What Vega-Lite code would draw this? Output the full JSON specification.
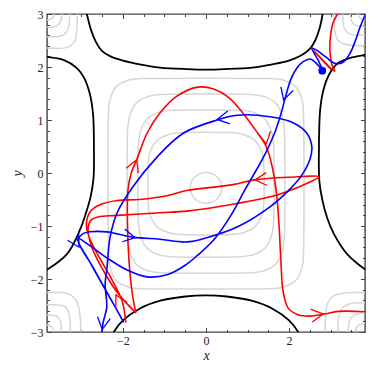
{
"$schema": "https://vega.github.io/schema/vega-lite/v6.json",
"width": 318, "height": 318,
"autosize": {"type": "none"},
"padding": {"left": 47, "top": 14, "right": 9, "bottom": 42},
"background": "white",
"config": {
 "view": {"stroke": "#444", "strokeWidth": 1.4},
 "axis": {"grid": false, "domain": false, "tickColor": "#444", "tickWidth": 1, "labelFont": "Liberation Serif", "labelFontSize": 12, "labelColor": "#222", "titleFont": "Liberation Serif", "titleFontSize": 14, "titleFontStyle": "italic", "titleFontWeight": "normal", "titleColor": "#222"}
},
"resolve": {"axis": {"x": "independent", "y": "independent"}},
"layer": [
 {
  "data": {"values": [
   {"s":"c","x":0.38,"y":-0.28},{"s":"c","x":0.27,"y":-0.075},{"s":"c","x":0,"y":0.01},{"s":"c","x":-0.27,"y":-0.075},{"s":"c","x":-0.38,"y":-0.28},{"s":"c","x":-0.27,"y":-0.485},{"s":"c","x":0,"y":-0.57},{"s":"c","x":0.27,"y":-0.485},
   {"s":"l1","x":1.4,"y":-0.2},{"s":"l1","x":1.389,"y":0.204},{"s":"l1","x":1.333,"y":0.431},{"s":"l1","x":1.177,"y":0.616},{"s":"l1","x":0.91,"y":0.723},{"s":"l1","x":0.584,"y":0.762},{"s":"l1","x":0,"y":0.77},{"s":"l1","x":-0.584,"y":0.762},{"s":"l1","x":-0.91,"y":0.723},{"s":"l1","x":-1.177,"y":0.616},{"s":"l1","x":-1.333,"y":0.431},{"s":"l1","x":-1.389,"y":0.204},{"s":"l1","x":-1.4,"y":-0.2},{"s":"l1","x":-1.389,"y":-0.604},{"s":"l1","x":-1.333,"y":-0.831},{"s":"l1","x":-1.177,"y":-1.016},{"s":"l1","x":-0.91,"y":-1.123},{"s":"l1","x":-0.584,"y":-1.162},{"s":"l1","x":0,"y":-1.17},{"s":"l1","x":0.584,"y":-1.162},{"s":"l1","x":0.91,"y":-1.123},{"s":"l1","x":1.177,"y":-1.016},{"s":"l1","x":1.333,"y":-0.831},{"s":"l1","x":1.389,"y":-0.604},
   {"s":"l2","x":1.64,"y":-0.2},{"s":"l2","x":1.63,"y":0.489},{"s":"l2","x":1.576,"y":0.786},{"s":"l2","x":1.428,"y":1.011},{"s":"l2","x":1.163,"y":1.136},{"s":"l2","x":0.813,"y":1.182},{"s":"l2","x":0,"y":1.19},{"s":"l2","x":-0.813,"y":1.182},{"s":"l2","x":-1.163,"y":1.136},{"s":"l2","x":-1.428,"y":1.011},{"s":"l2","x":-1.576,"y":0.786},{"s":"l2","x":-1.63,"y":0.489},{"s":"l2","x":-1.64,"y":-0.2},{"s":"l2","x":-1.63,"y":-0.889},{"s":"l2","x":-1.576,"y":-1.186},{"s":"l2","x":-1.428,"y":-1.411},{"s":"l2","x":-1.163,"y":-1.536},{"s":"l2","x":-0.813,"y":-1.582},{"s":"l2","x":0,"y":-1.59},{"s":"l2","x":0.813,"y":-1.582},{"s":"l2","x":1.163,"y":-1.536},{"s":"l2","x":1.428,"y":-1.411},{"s":"l2","x":1.576,"y":-1.186},{"s":"l2","x":1.63,"y":-0.889},
   {"s":"l3","x":1.9,"y":-0.2},{"s":"l3","x":1.891,"y":0.743},{"s":"l3","x":1.839,"y":1.068},{"s":"l3","x":1.693,"y":1.306},{"s":"l3","x":1.425,"y":1.436},{"s":"l3","x":1.06,"y":1.482},{"s":"l3","x":0,"y":1.49},{"s":"l3","x":-1.06,"y":1.482},{"s":"l3","x":-1.425,"y":1.436},{"s":"l3","x":-1.693,"y":1.306},{"s":"l3","x":-1.839,"y":1.068},{"s":"l3","x":-1.891,"y":0.743},{"s":"l3","x":-1.9,"y":-0.2},{"s":"l3","x":-1.891,"y":-1.143},{"s":"l3","x":-1.839,"y":-1.468},{"s":"l3","x":-1.693,"y":-1.706},{"s":"l3","x":-1.425,"y":-1.836},{"s":"l3","x":-1.06,"y":-1.882},{"s":"l3","x":0,"y":-1.89},{"s":"l3","x":1.06,"y":-1.882},{"s":"l3","x":1.425,"y":-1.836},{"s":"l3","x":1.693,"y":-1.706},{"s":"l3","x":1.839,"y":-1.468},{"s":"l3","x":1.891,"y":-1.143},
   {"s":"l4","x":2.36,"y":-0.2},{"s":"l4","x":2.351,"y":1.084},{"s":"l4","x":2.303,"y":1.404},{"s":"l4","x":2.164,"y":1.625},{"s":"l4","x":1.902,"y":1.742},{"s":"l4","x":1.522,"y":1.782},{"s":"l4","x":0,"y":1.79},{"s":"l4","x":-1.522,"y":1.782},{"s":"l4","x":-1.902,"y":1.742},{"s":"l4","x":-2.164,"y":1.625},{"s":"l4","x":-2.303,"y":1.404},{"s":"l4","x":-2.351,"y":1.084},{"s":"l4","x":-2.36,"y":-0.2},{"s":"l4","x":-2.351,"y":-1.484},{"s":"l4","x":-2.303,"y":-1.804},{"s":"l4","x":-2.164,"y":-2.025},{"s":"l4","x":-1.902,"y":-2.142},{"s":"l4","x":-1.522,"y":-2.182},{"s":"l4","x":0,"y":-2.19},{"s":"l4","x":1.522,"y":-2.182},{"s":"l4","x":1.902,"y":-2.142},{"s":"l4","x":2.164,"y":-2.025},{"s":"l4","x":2.303,"y":-1.804},{"s":"l4","x":2.351,"y":-1.484}
  ]},
  "mark": {"type": "line", "interpolate": "cardinal-closed", "color": "#d6d6d6", "strokeWidth": 1.5, "clip": true},
  "encoding": {
   "x": {"field": "x", "type": "quantitative", "scale": {"domain": [-3.83, 3.83], "nice": false, "zero": false},
         "axis": {"orient": "bottom", "values": [-2, 0, 2], "tickSize": -4.5, "labelPadding": 7.5, "title": "x", "titlePadding": 2}},
   "y": {"field": "y", "type": "quantitative", "scale": {"domain": [-3, 3], "nice": false, "zero": false},
         "axis": {"orient": "left", "values": [-3, -2, -1, 0, 1, 2, 3], "tickSize": -4.5, "labelPadding": 8.5, "title": "y", "titlePadding": 6}},
   "detail": {"field": "s"},
   "order": {"value": null}
  }
 },
 {
  "data": {"values": [
   {"s":"tl1","x":-3.9,"y":2.36},{"s":"tl1","x":-3.35,"y":2.37},{"s":"tl1","x":-3.18,"y":2.46},{"s":"tl1","x":-3.12,"y":2.62},{"s":"tl1","x":-3.1,"y":3.1},
   {"s":"tl2","x":-3.9,"y":2.57},{"s":"tl2","x":-3.45,"y":2.6},{"s":"tl2","x":-3.33,"y":2.7},{"s":"tl2","x":-3.28,"y":3.1},
   {"s":"tl3","x":-3.9,"y":2.75},{"s":"tl3","x":-3.6,"y":2.77},{"s":"tl3","x":-3.5,"y":2.87},{"s":"tl3","x":-3.47,"y":3.1},
   {"s":"tl4","x":-3.9,"y":2.88},{"s":"tl4","x":-3.7,"y":2.92},{"s":"tl4","x":-3.65,"y":3.1},
   {"s":"tr1","x":3.9,"y":2.4},{"s":"tr1","x":3.35,"y":2.43},{"s":"tr1","x":3.18,"y":2.5},{"s":"tr1","x":3.11,"y":2.65},{"s":"tr1","x":3.08,"y":3.1},
   {"s":"tr2","x":3.9,"y":2.6},{"s":"tr2","x":3.45,"y":2.63},{"s":"tr2","x":3.33,"y":2.73},{"s":"tr2","x":3.3,"y":3.1},
   {"s":"tr3","x":3.9,"y":2.77},{"s":"tr3","x":3.6,"y":2.79},{"s":"tr3","x":3.5,"y":2.88},{"s":"tr3","x":3.47,"y":3.1},
   {"s":"tr4","x":3.9,"y":2.89},{"s":"tr4","x":3.7,"y":2.93},{"s":"tr4","x":3.65,"y":3.1},
   {"s":"bl1","x":-3.9,"y":-2.26},{"s":"bl1","x":-3.35,"y":-2.27},{"s":"bl1","x":-3.15,"y":-2.38},{"s":"bl1","x":-3.06,"y":-2.55},{"s":"bl1","x":-3.01,"y":-3.1},
   {"s":"bl2","x":-3.9,"y":-2.49},{"s":"bl2","x":-3.4,"y":-2.52},{"s":"bl2","x":-3.3,"y":-2.65},{"s":"bl2","x":-3.27,"y":-3.1},
   {"s":"bl3","x":-3.9,"y":-2.68},{"s":"bl3","x":-3.58,"y":-2.71},{"s":"bl3","x":-3.5,"y":-2.82},{"s":"bl3","x":-3.49,"y":-3.1},
   {"s":"bl4","x":-3.9,"y":-2.86},{"s":"bl4","x":-3.72,"y":-2.9},{"s":"bl4","x":-3.68,"y":-3.1},
   {"s":"br1","x":3.9,"y":-2.26},{"s":"br1","x":3.3,"y":-2.27},{"s":"br1","x":3.05,"y":-2.33},{"s":"br1","x":2.92,"y":-2.47},{"s":"br1","x":2.88,"y":-2.7},{"s":"br1","x":2.87,"y":-3.1},
   {"s":"br2","x":3.9,"y":-2.45},{"s":"br2","x":3.45,"y":-2.47},{"s":"br2","x":3.28,"y":-2.55},{"s":"br2","x":3.2,"y":-2.7},{"s":"br2","x":3.18,"y":-3.1},
   {"s":"br3","x":3.9,"y":-2.64},{"s":"br3","x":3.55,"y":-2.69},{"s":"br3","x":3.45,"y":-2.82},{"s":"br3","x":3.42,"y":-3.1},
   {"s":"br4","x":3.9,"y":-2.83},{"s":"br4","x":3.65,"y":-2.88},{"s":"br4","x":3.6,"y":-3.1}
  ]},
  "mark": {"type": "line", "interpolate": "catmull-rom", "color": "#d6d6d6", "strokeWidth": 1.5, "clip": true},
  "encoding": {
   "x": {"field": "x", "type": "quantitative", "axis": {"orient": "top", "values": [-2, 0, 2], "tickSize": -4.5, "labels": false, "title": null}},
   "y": {"field": "y", "type": "quantitative", "axis": {"orient": "right", "values": [-3, -2, -1, 0, 1, 2, 3], "tickSize": -4.5, "labels": false, "title": null}},
   "detail": {"field": "s"},
   "order": {"value": null}
  }
 },
 {
  "data": {"values": [
   {"s":"t","x":-2.9,"y":3.1},{"s":"t","x":-2.87,"y":3.0},{"s":"t","x":-2.77,"y":2.7},{"s":"t","x":-2.65,"y":2.47},{"s":"t","x":-2.5,"y":2.3},{"s":"t","x":-2.3,"y":2.2},{"s":"t","x":-2.0,"y":2.12},{"s":"t","x":-1.6,"y":2.05},{"s":"t","x":-1.11,"y":1.99},{"s":"t","x":-0.46,"y":1.96},{"s":"t","x":0,"y":1.95},{"s":"t","x":0.46,"y":1.96},{"s":"t","x":1.11,"y":1.99},{"s":"t","x":1.6,"y":2.05},{"s":"t","x":2.0,"y":2.12},{"s":"t","x":2.3,"y":2.22},{"s":"t","x":2.5,"y":2.34},{"s":"t","x":2.63,"y":2.5},{"s":"t","x":2.74,"y":2.74},{"s":"t","x":2.81,"y":3.0},{"s":"t","x":2.83,"y":3.1},
   {"s":"l","x":-3.9,"y":2.2},{"s":"l","x":-3.83,"y":2.19},{"s":"l","x":-3.42,"y":2.13},{"s":"l","x":-3.11,"y":1.98},{"s":"l","x":-2.94,"y":1.8},{"s":"l","x":-2.8,"y":1.5},{"s":"l","x":-2.72,"y":1.1},{"s":"l","x":-2.7,"y":0.5},{"s":"l","x":-2.71,"y":-0.1},{"s":"l","x":-2.78,"y":-0.45},{"s":"l","x":-2.89,"y":-0.75},{"s":"l","x":-3.04,"y":-1.08},{"s":"l","x":-3.35,"y":-1.53},{"s":"l","x":-3.9,"y":-1.86},
   {"s":"r","x":3.9,"y":2.24},{"s":"r","x":3.83,"y":2.23},{"s":"r","x":3.47,"y":2.17},{"s":"r","x":3.16,"y":2.06},{"s":"r","x":2.96,"y":1.85},{"s":"r","x":2.83,"y":1.57},{"s":"r","x":2.75,"y":1.19},{"s":"r","x":2.72,"y":0.43},{"s":"r","x":2.73,"y":-0.15},{"s":"r","x":2.8,"y":-0.5},{"s":"r","x":2.92,"y":-0.85},{"s":"r","x":3.08,"y":-1.15},{"s":"r","x":3.4,"y":-1.53},{"s":"r","x":3.9,"y":-1.86},
   {"s":"b","x":-2.27,"y":-3.1},{"s":"b","x":-2.22,"y":-3.0},{"s":"b","x":-2.0,"y":-2.78},{"s":"b","x":-1.6,"y":-2.56},{"s":"b","x":-1.1,"y":-2.41},{"s":"b","x":-0.5,"y":-2.33},{"s":"b","x":0,"y":-2.31},{"s":"b","x":0.5,"y":-2.33},{"s":"b","x":1.1,"y":-2.41},{"s":"b","x":1.6,"y":-2.56},{"s":"b","x":2.0,"y":-2.78},{"s":"b","x":2.22,"y":-3.0},{"s":"b","x":2.27,"y":-3.1}
  ]},
  "mark": {"type": "line", "interpolate": "catmull-rom", "color": "#000000", "strokeWidth": 1.8, "clip": true},
  "encoding": {
   "x": {"field": "x", "type": "quantitative", "axis": {"orient": "bottom", "values": [-3.5, -3, -2.5, -1.5, -1, -0.5, 0.5, 1, 1.5, 2.5, 3, 3.5], "tickSize": -2.5, "labels": false, "title": null}},
   "y": {"field": "y", "type": "quantitative", "axis": {"orient": "left", "values": [-2.8, -2.6, -2.4, -2.2, -1.8, -1.6, -1.4, -1.2, -0.8, -0.6, -0.4, -0.2, 0.2, 0.4, 0.6, 0.8, 1.2, 1.4, 1.6, 1.8, 2.2, 2.4, 2.6, 2.8], "tickSize": -2.5, "labels": false, "title": null}},
   "detail": {"field": "s"},
   "order": {"value": null}
  }
 },
 {
  "data": {"values": [
   {"s":"a","x":-1.69,"y":-2.64},{"s":"a","x":-1.78,"y":-2.25},{"s":"a","x":-1.86,"y":-1.6},{"s":"a","x":-1.89,"y":-1.0},{"s":"a","x":-1.88,"y":-0.32},{"s":"a","x":-1.8,"y":0.0},{"s":"a","x":-1.67,"y":0.25},{"s":"a","x":-1.42,"y":0.75},{"s":"a","x":-1.11,"y":1.13},{"s":"a","x":-0.7,"y":1.45},{"s":"a","x":-0.2,"y":1.62},{"s":"a","x":0.2,"y":1.58},{"s":"a","x":0.55,"y":1.42},{"s":"a","x":0.92,"y":1.1},{"s":"a","x":1.22,"y":0.78},{"s":"a","x":1.45,"y":0.5},{"s":"a","x":1.6,"y":0.1},{"s":"a","x":1.7,"y":-0.4},{"s":"a","x":1.76,"y":-1.0},{"s":"a","x":1.8,"y":-1.6},{"s":"a","x":1.86,"y":-2.25},{"s":"a","x":1.98,"y":-2.55},{"s":"a","x":2.2,"y":-2.67},{"s":"a","x":2.5,"y":-2.7},{"s":"a","x":2.85,"y":-2.66},{"s":"a","x":3.2,"y":-2.61},{"s":"a","x":3.9,"y":-2.62},
   {"s":"b","x":-1.69,"y":-2.64},{"s":"b","x":-1.92,"y":-2.45},{"s":"b","x":-2.14,"y":-2.25},{"s":"b","x":-2.48,"y":-1.83},{"s":"b","x":-2.75,"y":-1.4},{"s":"b","x":-2.84,"y":-1.05},{"s":"b","x":-2.76,"y":-0.88},{"s":"b","x":-2.6,"y":-0.83},{"s":"b","x":-2.14,"y":-0.8},{"s":"b","x":-1.11,"y":-0.75},{"s":"b","x":-0.46,"y":-0.72},{"s":"b","x":0.58,"y":-0.6},{"s":"b","x":1.54,"y":-0.45},{"s":"b","x":2.12,"y":-0.3},{"s":"b","x":2.5,"y":-0.17},{"s":"b","x":2.72,"y":-0.07},{"s":"b","x":2.0,"y":-0.08},{"s":"b","x":1.16,"y":-0.13},{"s":"b","x":0.65,"y":-0.22},{"s":"b","x":-0.46,"y":-0.33},{"s":"b","x":-0.94,"y":-0.43},{"s":"b","x":-1.6,"y":-0.5},{"s":"b","x":-2.14,"y":-0.52},{"s":"b","x":-2.55,"y":-0.6},{"s":"b","x":-2.78,"y":-0.72},{"s":"b","x":-2.88,"y":-0.94},{"s":"b","x":-2.82,"y":-1.2},{"s":"b","x":-2.6,"y":-1.55},{"s":"b","x":-2.26,"y":-2.02},{"s":"b","x":-2.02,"y":-2.42},{"s":"b","x":-1.93,"y":-2.82},
   {"s":"c","x":3.25,"y":3.1},{"s":"c","x":3.06,"y":2.83},{"s":"c","x":2.99,"y":2.51},{"s":"c","x":2.99,"y":2.26},{"s":"c","x":3.03,"y":2.05},{"s":"c","x":3.1,"y":1.92},{"s":"c","x":2.53,"y":2.36},{"s":"c","x":3.02,"y":1.95}
  ]},
  "mark": {"type": "line", "interpolate": "catmull-rom", "color": "#ff0000", "strokeWidth": 1.6, "clip": true},
  "encoding": {
   "x": {"field": "x", "type": "quantitative", "axis": {"orient": "top", "values": [-3.5, -3, -2.5, -1.5, -1, -0.5, 0.5, 1, 1.5, 2.5, 3, 3.5], "tickSize": -2.5, "labels": false, "title": null}},
   "y": {"field": "y", "type": "quantitative", "axis": {"orient": "right", "values": [-2.8, -2.6, -2.4, -2.2, -1.8, -1.6, -1.4, -1.2, -0.8, -0.6, -0.4, -0.2, 0.2, 0.4, 0.6, 0.8, 1.2, 1.4, 1.6, 1.8, 2.2, 2.4, 2.6, 2.8], "tickSize": -2.5, "labels": false, "title": null}},
   "detail": {"field": "s"},
   "order": {"value": null}
  }
 },
 {
  "data": {"values": [
   {"s":"a","x":3.9,"y":3.1},{"s":"a","x":3.71,"y":2.75},{"s":"a","x":3.6,"y":2.5},{"s":"a","x":3.47,"y":2.26},{"s":"a","x":3.3,"y":2.09},{"s":"a","x":3.1,"y":2.07},{"s":"a","x":2.9,"y":2.18},{"s":"a","x":2.7,"y":2.3},{"s":"a","x":2.55,"y":2.36},{"s":"a","x":2.7,"y":2.13},{"s":"a","x":2.82,"y":1.93},
   {"s":"b","x":2.82,"y":1.93},{"s":"b","x":2.67,"y":2.06},{"s":"b","x":2.51,"y":2.15},{"s":"b","x":2.34,"y":2.1},{"s":"b","x":2.19,"y":1.98},{"s":"b","x":2.05,"y":1.78},{"s":"b","x":1.92,"y":1.45},{"s":"b","x":1.8,"y":1.1},{"s":"b","x":1.65,"y":0.75},{"s":"b","x":1.45,"y":0.4},{"s":"b","x":1.23,"y":0.08},{"s":"b","x":0.95,"y":-0.3},{"s":"b","x":0.6,"y":-0.8},{"s":"b","x":0.2,"y":-1.25},{"s":"b","x":-0.2,"y":-1.55},{"s":"b","x":-0.5,"y":-1.74},{"s":"b","x":-0.94,"y":-1.92},{"s":"b","x":-1.42,"y":-1.96},{"s":"b","x":-1.9,"y":-1.83},{"s":"b","x":-2.39,"y":-1.6},{"s":"b","x":-2.8,"y":-1.37},{"s":"b","x":-3.11,"y":-1.22},{"s":"b","x":-2.77,"y":-1.72},{"s":"b","x":-2.39,"y":-2.25},{"s":"b","x":-1.98,"y":-2.82},{"s":"b","x":-2.35,"y":-2.3},{"s":"b","x":-2.72,"y":-1.78},{"s":"b","x":-3.08,"y":-1.26},{"s":"b","x":-2.95,"y":-1.14},{"s":"b","x":-2.8,"y":-1.11},{"s":"b","x":-2.39,"y":-1.11},{"s":"b","x":-1.76,"y":-1.21},{"s":"b","x":-1.11,"y":-1.25},{"s":"b","x":-0.46,"y":-1.3},{"s":"b","x":0.02,"y":-1.22},{"s":"b","x":0.75,"y":-1.02},{"s":"b","x":1.54,"y":-0.64},{"s":"b","x":2.05,"y":-0.28},{"s":"b","x":2.3,"y":-0.05},{"s":"b","x":2.5,"y":0.25},{"s":"b","x":2.55,"y":0.49},{"s":"b","x":2.43,"y":0.75},{"s":"b","x":2.12,"y":0.94},{"s":"b","x":1.54,"y":1.06},{"s":"b","x":0.75,"y":1.09},{"s":"b","x":0.27,"y":1.0},{"s":"b","x":-0.55,"y":0.75},{"s":"b","x":-1.18,"y":0.3},{"s":"b","x":-1.76,"y":-0.26},{"s":"b","x":-2.14,"y":-0.75},{"s":"b","x":-2.31,"y":-1.21},{"s":"b","x":-2.39,"y":-1.83},{"s":"b","x":-2.43,"y":-2.1},{"s":"b","x":-2.39,"y":-2.53},{"s":"b","x":-2.48,"y":-2.83},{"s":"b","x":-2.52,"y":-3.1}
  ]},
  "mark": {"type": "line", "interpolate": "catmull-rom", "color": "#0000ff", "strokeWidth": 1.6, "clip": true},
  "encoding": {
   "x": {"field": "x", "type": "quantitative", "axis": null},
   "y": {"field": "y", "type": "quantitative", "axis": null},
   "detail": {"field": "s"},
   "order": {"value": null}
  }
 },
 {
  "data": {"values": [
   {"x":-1.67,"y":0.25,"a":-68},{"x":1.45,"y":0.55,"a":80},{"x":1.18,"y":-0.13,"a":176},{"x":-2.17,"y":-2.3,"a":242},{"x":2.82,"y":-2.66,"a":-8}
  ]},
  "mark": {"type": "point", "shape": "M-1,-0.55L0,0L-1,0.55", "filled": false, "color": "#ff0000", "strokeWidth": 1.3, "size": 550, "opacity": 1, "clip": true},
  "encoding": {
   "x": {"field": "x", "type": "quantitative", "axis": null},
   "y": {"field": "y", "type": "quantitative", "axis": null},
   "angle": {"field": "a", "type": "quantitative", "scale": null}
  }
 },
 {
  "data": {"values": [
   {"x":1.87,"y":1.38,"a":107},{"x":0.27,"y":1.01,"a":170},{"x":-1.71,"y":-1.22,"a":11},{"x":-2.5,"y":-2.95,"a":98},{"x":-3.06,"y":-1.4,"a":60}
  ]},
  "mark": {"type": "point", "shape": "M-1,-0.55L0,0L-1,0.55", "filled": false, "color": "#0000ff", "strokeWidth": 1.3, "size": 550, "opacity": 1, "clip": true},
  "encoding": {
   "x": {"field": "x", "type": "quantitative", "axis": null},
   "y": {"field": "y", "type": "quantitative", "axis": null},
   "angle": {"field": "a", "type": "quantitative", "scale": null}
  }
 },
 {
  "data": {"values": [{"x":2.8,"y":1.93}]},
  "mark": {"type": "point", "shape": "circle", "filled": true, "color": "#0000ff", "size": 60, "opacity": 1},
  "encoding": {
   "x": {"field": "x", "type": "quantitative", "axis": null},
   "y": {"field": "y", "type": "quantitative", "axis": null}
  }
 }
]
}
